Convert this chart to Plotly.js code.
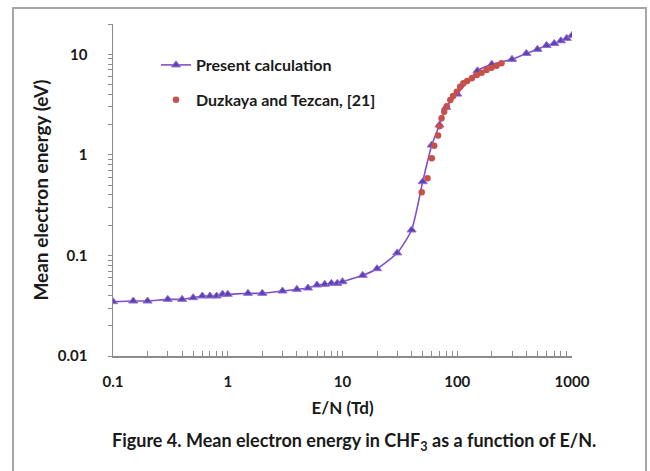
<!DOCTYPE html>
<html>
<head>
<meta charset="utf-8">
<script src="https://cdn.plot.ly/plotly-3.0.1.min.js"></script>
<style>
  html, body { margin: 0; padding: 0; background: #ffffff; }
  #chart { width: 650px; height: 471px; }
</style>
</head>
<body>
<div id="chart"></div>
<script>
// ---- Data ----
const calcEN = [0.1, 0.15, 0.2, 0.3, 0.4, 0.5, 0.6, 0.7, 0.8, 0.9, 1, 1.5, 2, 3, 4, 5, 6, 7, 8, 9, 10, 15, 20, 30, 40, 50, 60, 70, 80, 100, 150, 200, 300, 400, 500, 600, 700, 800, 900, 1000];
const calcEnergy = [0.0347, 0.0352, 0.0352, 0.0366, 0.0366, 0.038, 0.0395, 0.0395, 0.0395, 0.0411, 0.0411, 0.042, 0.042, 0.0443, 0.046, 0.0474, 0.0508, 0.0516, 0.0528, 0.0528, 0.0548, 0.0634, 0.0738, 0.106, 0.179, 0.541, 1.25, 1.98, 2.97, 4.02, 6.85, 7.94, 8.9, 10.2, 11.2, 12.25, 12.8, 13.6, 14.4, 15.4];

const expEN = [49, 55, 60, 63, 68, 70, 73, 77, 81, 87, 92, 99, 106, 113, 122, 134, 148, 163, 180, 199, 220, 243];
const expEnergy = [0.424, 0.584, 0.923, 1.23, 1.56, 1.93, 2.31, 2.68, 3.05, 3.51, 3.85, 4.24, 4.75, 5.14, 5.43, 5.77, 6.23, 6.56, 6.98, 7.36, 7.70, 8.13];

const seriesNames = ['Present calculation', 'Duzkaya and Tezcan, [21]'];
const xTickLabels = ['0.1', '1', '10', '100', '1000'];
const yTickLabels = ['0.01', '0.1', '1', '10'];
const xTitle = 'E/N (Td)';
const yTitle = 'Mean electron energy (eV)';
const caption = 'Figure 4. Mean electron energy in CHF<sub>3</sub> as a function of E/N.';

// ---- Tick construction (major labels + unlabeled minor ticks) ----
function logTicks(firstExp, labels, extra) {
  const vals = [], text = [];
  labels.forEach(function (lab, i) {
    const base = Math.pow(10, firstExp + i);
    vals.push(base); text.push(lab);
    const maxM = (i < labels.length - 1) ? 9 : extra;
    for (let m = 2; m <= maxM; m++) { vals.push(m * base); text.push(''); }
  });
  return { vals: vals, text: text };
}
const xt = logTicks(-1, xTickLabels, 0);
const yt = logTicks(-2, yTickLabels, 2);

const FONT = 'Lato, "Open Sans", sans-serif';
const TXT = '#1a1a1a';
const AXC = '#8c8c8c';

const L = 113, R = 78, T = 24, B = 115, W = 650, H = 471;
const pw = W - L - R, ph = H - T - B;
function px2paperX(p) { return (p - L) / pw; }
function px2paperY(p) { return (H - B - p) / ph; }

const traces = [
  {
    x: calcEN, y: calcEnergy, name: seriesNames[0], type: 'scatter', mode: 'lines+markers',
    legendgroup: 'a',
    line: { color: '#8050c8', width: 1.6, shape: 'spline', smoothing: 0.6 },
    marker: { symbol: 'triangle-up', size: 8, color: '#5646b4', line: { color: '#9a6ad6', width: 1 } }
  },
  {
    x: expEN, y: expEnergy, name: seriesNames[1], type: 'scatter', mode: 'markers',
    legendgroup: 'b',
    marker: { symbol: 'circle', size: 6.5, color: '#c8504a' }
  }
];

const layout = {
  width: W, height: H,
  margin: { l: L, r: R, t: T, b: B, pad: 0 },
  paper_bgcolor: '#ffffff', plot_bgcolor: '#ffffff',
  font: { family: FONT, color: TXT, size: 15 },
  showlegend: true,
  legend: {
    x: px2paperX(156), y: px2paperY(48), xanchor: 'left', yanchor: 'top',
    bgcolor: 'rgba(0,0,0,0)', borderwidth: 0,
    font: { family: FONT, size: 16, color: TXT, weight: 'bold' },
    tracegroupgap: 11, traceorder: 'grouped'
  },
  xaxis: {
    type: 'log', range: [-1, 3],
    tickmode: 'array', tickvals: xt.vals, ticktext: xt.text, tickangle: 0,
    ticks: 'inside', ticklen: 5, tickwidth: 1, tickcolor: AXC,
    showline: true, linecolor: AXC, linewidth: 1.5,
    showgrid: false, zeroline: false, mirror: false,
    ticklabelstandoff: 11,
    tickfont: { family: FONT, size: 15, color: TXT, weight: 'bold' },
    title: { text: xTitle, standoff: 13, font: { family: FONT, size: 17, color: TXT, weight: 'bold' } }
  },
  yaxis: {
    type: 'log', range: [-2, Math.log10(20)],
    tickmode: 'array', tickvals: yt.vals, ticktext: yt.text, tickangle: 0,
    ticks: 'outside', ticklen: 4, tickwidth: 1, tickcolor: AXC,
    showline: true, linecolor: AXC, linewidth: 1.5,
    showgrid: false, zeroline: false, mirror: false,
    ticklabelstandoff: 17,
    tickfont: { family: FONT, size: 15, color: TXT, weight: 'bold' },
    title: { text: yTitle, standoff: 4, font: { family: FONT, size: 19, color: TXT, weight: 'bold' } }
  },
  annotations: [
    {
      text: caption, xref: 'paper', yref: 'paper',
      x: px2paperX(354), y: px2paperY(441), xanchor: 'center', yanchor: 'middle',
      showarrow: false, font: { family: FONT, size: 18, color: TXT, weight: 'bold' }
    }
  ],
  shapes: [
    {
      type: 'rect', xref: 'paper', yref: 'paper', layer: 'below',
      x0: px2paperX(13), x1: px2paperX(646), y0: px2paperY(520), y1: px2paperY(8),
      line: { color: '#a6a6a6', width: 2 }, fillcolor: 'rgba(0,0,0,0)'
    }
  ]
};

Plotly.newPlot('chart', traces, layout, { displayModeBar: false, staticPlot: true });
</script>
</body>
</html>
